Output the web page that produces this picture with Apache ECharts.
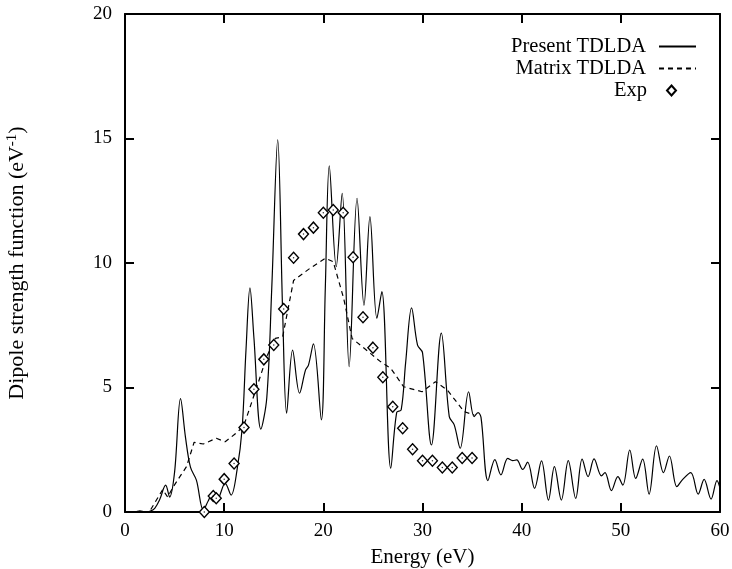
<!DOCTYPE html>
<html>
<head>
<meta charset="utf-8">
<script src="https://cdn.jsdelivr.net/npm/echarts@6/dist/echarts.min.js"></script>
<style>
  html, body { margin: 0; padding: 0; background: #fff; }
  #chart { width: 732px; height: 569px; }
</style>
</head>
<body>
<div id="chart"></div>
<script>
// energy (eV) / strength pairs
const presentX = [0, 1, 1.5, 2, 2.5, 3, 3.5, 4.1, 4.5, 5, 5.6, 6.1, 6.6, 7.2, 7.9, 8.4, 8.75, 9.25, 10.1, 10.7, 11.3, 11.8, 12.2, 12.6, 13.0, 13.7, 14.3, 14.8, 15.4, 15.9, 16.3, 16.9, 17.6, 18.2, 18.5, 19.0, 19.8, 20.2, 20.6, 21.3, 21.9, 22.6, 23.4, 24.1, 24.7, 25.4, 25.9, 26.8, 27.4, 27.85, 28.3, 28.9, 29.5, 30.0, 30.9, 31.9, 32.7, 33.2, 33.8, 34.65, 35.2, 35.6, 35.9, 36.6, 37.3, 37.9, 38.6, 39.1, 39.5, 40.1, 40.6, 41.3, 42.0, 42.7, 43.3, 44.0, 44.7, 45.45, 46.1, 46.7, 47.3, 48.05, 48.4, 49.05, 49.7, 50.2, 50.9, 51.5, 52.2, 52.85, 53.6, 54.3, 54.9, 55.65, 56.2, 57.05, 57.8, 58.4, 59.1, 59.7, 60];
const presentY = [0, 0, 0.05, 0, 0.03, 0.15, 0.5, 1.08, 0.6, 1.6, 4.55, 3.0, 1.8, 1.28, 0.08, 0.45, 0.68, 0.48, 1.15, 0.68, 1.69, 3.3, 6.5, 9.0, 7.0, 3.33, 4.6, 9.0, 14.95, 8.0, 3.97, 6.5, 4.77, 5.7, 5.9, 6.75, 3.7, 9.0, 13.9, 9.85, 12.8, 5.84, 12.6, 8.3, 11.86, 7.78, 8.85, 1.76, 4.0, 4.1, 6.0, 8.2, 6.7, 6.4, 2.69, 7.18, 3.83, 3.5, 2.56, 4.83, 3.83, 3.99, 3.8, 1.26, 2.1, 1.49, 2.15, 2.06, 2.09, 1.71, 2.0, 0.95, 2.05, 0.48, 1.82, 0.48, 2.06, 0.55, 2.12, 1.42, 2.13, 1.45, 1.58, 0.86, 1.42, 1.08, 2.49, 1.35, 2.12, 0.72, 2.66, 1.58, 2.25, 1.02, 1.29, 1.58, 0.72, 1.31, 0.52, 1.26, 0.96];

const matrixX = [2.6, 3.2, 3.8, 4.3, 4.85, 5.5, 6.2, 6.97, 7.9, 9.2, 10.1, 11.0, 11.95, 13.3, 14.3, 15.15, 15.9, 16.0, 17.0, 17.2, 18.7, 20.2, 21.0, 22.05, 22.9, 24.75, 25.76, 26.8, 28.1, 29.96, 31.3, 32.5, 34.2, 35.2];
const matrixY = [0.1, 0.5, 0.9, 0.6, 1.0, 1.4, 1.82, 2.8, 2.73, 2.96, 2.82, 3.1, 3.43, 5.03, 6.24, 6.97, 7.04, 7.07, 9.3, 9.38, 9.8, 10.19, 10.05, 8.58, 6.97, 6.37, 6.04, 5.77, 5.03, 4.83, 5.23, 4.9, 4.03, 3.9];

const expX = [8, 8.9, 9.2, 10, 11, 12, 13, 14, 15, 16, 17, 18, 19, 20, 21, 22, 23, 24, 25, 26, 27, 28, 29, 30, 31, 32, 33, 34, 35];
const expY = [0.0, 0.64, 0.55, 1.32, 1.95, 3.39, 4.93, 6.13, 6.71, 8.15, 10.21, 11.16, 11.42, 12.02, 12.13, 12.02, 10.23, 7.82, 6.6, 5.41, 4.23, 3.36, 2.52, 2.06, 2.06, 1.79, 1.79, 2.17, 2.17];

const xTicks = [0, 10, 20, 30, 40, 50, 60];
const yTicks = [0, 5, 10, 15, 20];

const pairs = (xs, ys) => xs.map((x, i) => [x, ys[i]]);

const font = 'Liberation Serif';
const ink = '#000';

const tickAxis = () => ({
  axisLine: { show: true, onZero: false, lineStyle: { color: ink, width: 2 } },
  axisTick: { show: true, inside: true, length: 9, lineStyle: { color: ink, width: 2 } },
  splitLine: { show: false },
});

const legendBase = (name, right, top, w, h, pad) => ({
  data: [name],
  right: right,
  top: top,
  align: 'right',
  itemWidth: w,
  itemHeight: h,
  padding: 0,
  textStyle: { fontFamily: font, fontSize: 20.5, color: ink, padding: [0, pad, 0, 0] },
});

const option = {
  backgroundColor: '#fff',
  animation: false,
  grid: { left: 125, right: 12, top: 14, bottom: 57, outerBoundsMode: 'none', containLabel: false },
  legend: [
    legendBase('Present TDLDA', 35, 36, 37, 10, 8),
    legendBase('Matrix TDLDA', 35, 58, 37, 10, 8),
    legendBase('Exp', 55, 80, 9, 10, 15),
  ],
  xAxis: [
    Object.assign({
      type: 'value', min: 0, max: 60, interval: 10,
      name: 'Energy (eV)', nameLocation: 'middle', nameGap: 35,
      nameTextStyle: { fontFamily: font, fontSize: 21, color: ink },
      axisLabel: { fontFamily: font, fontSize: 19, color: ink, margin: 10 },
    }, tickAxis()),
    Object.assign({
      type: 'value', min: 0, max: 60, interval: 10, position: 'top',
      axisLabel: { show: false },
    }, tickAxis()),
  ],
  yAxis: [
    Object.assign({
      type: 'value', min: 0, max: 20, interval: 5,
      name: '{t|Dipole strength function (eV}{s|-1}{t|)}',
      nameLocation: 'middle', nameGap: 96, nameRotate: 90,
      nameTextStyle: {
        rich: {
          t: { fontFamily: font, fontSize: 22, color: ink },
          s: { fontFamily: font, fontSize: 15, color: ink, verticalAlign: 'top', padding: [0, 0, 9, 0] },
        },
      },
      axisLabel: { fontFamily: font, fontSize: 19, color: ink, margin: 13 },
    }, tickAxis()),
    Object.assign({
      type: 'value', min: 0, max: 20, interval: 5, position: 'right',
      axisLabel: { show: false },
    }, tickAxis()),
  ],
  series: [
    {
      name: 'Present TDLDA',
      type: 'line',
      data: pairs(presentX, presentY),
      smooth: 0.35,
      showSymbol: false,
      symbol: 'none',
      lineStyle: { color: ink, width: 1.2 },
      itemStyle: { color: ink },
      z: 3,
    },
    {
      name: 'Matrix TDLDA',
      type: 'line',
      data: pairs(matrixX, matrixY),
      showSymbol: false,
      symbol: 'none',
      lineStyle: { color: ink, width: 1.2, type: [5, 4] },
      itemStyle: { color: ink },
      z: 3,
    },
    {
      name: 'Exp',
      type: 'scatter',
      data: pairs(expX, expY),
      symbol: 'diamond',
      symbolSize: [10, 11],
      itemStyle: { color: '#fff', borderColor: ink, borderWidth: 1.4, opacity: 1 },
      z: 4,
    },
    {
      name: 'ExpDot',
      type: 'scatter',
      data: pairs(expX, expY),
      symbol: 'circle',
      symbolSize: 1.5,
      itemStyle: { color: ink },
      z: 5,
    },
  ],
};
// line legends: show only the line sample, no marker
option.legend[0].itemStyle = { color: 'transparent', borderColor: 'transparent' };
option.legend[1].itemStyle = { color: 'transparent', borderColor: 'transparent' };

const chart = echarts.init(document.getElementById('chart'), null, { renderer: 'canvas' });
chart.setOption(option);
</script>
</body>
</html>
